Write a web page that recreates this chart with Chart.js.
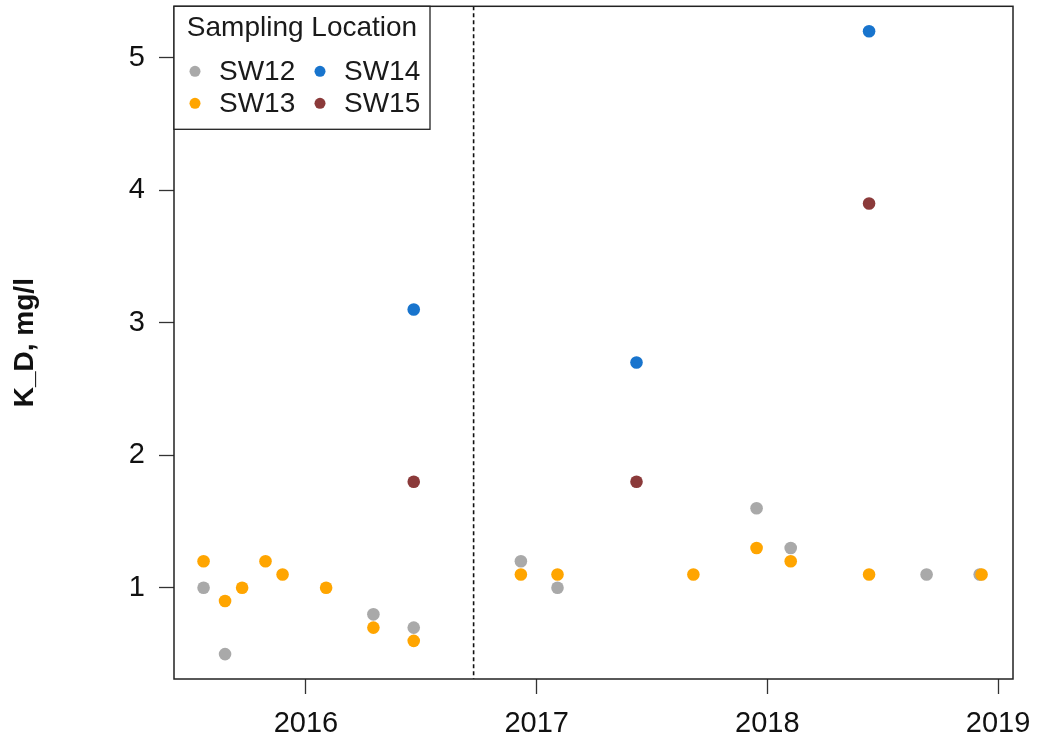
<!DOCTYPE html>
<html>
<head>
<meta charset="utf-8">
<title>K_D by sampling location</title>
<script src="https://cdn.jsdelivr.net/npm/chart.js@4"></script>
<style>
  html, body { margin: 0; padding: 0; background: #fff; }
  canvas { display: block; }
</style>
</head>
<body>
<canvas id="kdChart" width="1038" height="741"></canvas>
<script>
// sampling dates and dissolved K (mg/l) per location
var sw12Dates = ['2015-07-23','2015-08-26','2016-04-17','2016-06-20','2016-12-07','2017-02-03','2017-12-15','2018-02-07','2018-09-10','2018-12-03'];
var sw12Values = [1.0, 0.5, 0.8, 0.7, 1.2, 1.0, 1.6, 1.3, 1.1, 1.1];

var sw13Dates = ['2015-07-23','2015-08-26','2015-09-22','2015-10-29','2015-11-25','2016-02-02','2016-04-17','2016-06-20','2016-12-07','2017-02-03','2017-09-06','2017-12-15','2018-02-07','2018-06-11','2018-12-06'];
var sw13Values = [1.2, 0.9, 1.0, 1.2, 1.1, 1.0, 0.7, 0.6, 1.1, 1.1, 1.1, 1.3, 1.2, 1.1, 1.1];

var sw14Dates = ['2016-06-20','2017-06-08','2018-06-11'];
var sw14Values = [3.1, 2.7, 5.2];

var sw15Dates = ['2016-06-20','2017-06-08','2018-06-11'];
var sw15Values = [1.8, 1.8, 3.9];

var locations = ['SW12', 'SW13', 'SW14', 'SW15'];
var colors = ['#A9A9A9', '#FFA500', '#1874CD', '#8B3A3A'];

var xTicks = [2016, 2017, 2018, 2019];
var yTicks = [1, 2, 3, 4, 5];
var markerDate = '2016-09-23';

var FONT = "'Liberation Sans', Arial, sans-serif";

function decimalYear(d){
	var t = Date.parse(d + 'T00:00:00Z');
	var y = new Date(t).getUTCFullYear();
	var start = Date.UTC(y, 0, 1), end = Date.UTC(y + 1, 0, 1);
	return y + (t - start) / (end - start);
}

function points(dates, values){
	return dates.map(function(d, i){ return { x: decimalYear(d), y: values[i] }; });
}

var series = [
	points(sw12Dates, sw12Values),
	points(sw13Dates, sw13Values),
	points(sw14Dates, sw14Values),
	points(sw15Dates, sw15Values)
];
// orange drawn above grey where they overlap
var drawOrder = [2, 1, 3, 4];

var datasets = locations.map(function(name, i){
	return {
		label: name,
		data: series[i],
		backgroundColor: colors[i],
		borderWidth: 0,
		pointRadius: 6.3,
		pointStyle: 'circle',
		order: drawOrder[i]
	};
});

// frame, dashed date marker and the boxed legend
var framePlugin = {
	id: 'frame',
	beforeDatasetsDraw: function(chart){
		var ctx = chart.ctx, a = chart.chartArea;
		var xs = chart.scales.x;
		var mx = xs.getPixelForValue(decimalYear(markerDate));
		ctx.save();
		ctx.strokeStyle = '#111';
		ctx.lineWidth = 1.6;
		ctx.setLineDash([4, 3]);
		ctx.beginPath();
		ctx.moveTo(mx, a.top);
		ctx.lineTo(mx, a.bottom);
		ctx.stroke();
		ctx.restore();
	},
	afterDatasetsDraw: function(chart){
		var ctx = chart.ctx, a = chart.chartArea;
		ctx.save();
		ctx.strokeStyle = '#222';
		ctx.lineWidth = 1.5;
		ctx.strokeRect(a.left, a.top, a.right - a.left, a.bottom - a.top);

		// legend
		var lx = a.left, ly = a.top, lw = 256, lh = 123;
		ctx.fillStyle = '#fff';
		ctx.fillRect(lx, ly, lw, lh);
		ctx.lineWidth = 1.3;
		ctx.strokeRect(lx, ly, lw, lh);

		ctx.font = '28px ' + FONT;
		ctx.fillStyle = '#1a1a1a';
		ctx.textBaseline = 'middle';
		ctx.textAlign = 'center';
		ctx.fillText('Sampling Location', lx + lw / 2, ly + 22);

		ctx.textAlign = 'left';
		var colX = [lx + 21, lx + 146];
		var rowY = [ly + 65, ly + 97];
		chart.data.datasets.forEach(function(ds, i){
			var cx = colX[Math.floor(i / 2)], cy = rowY[i % 2];
			ctx.fillStyle = ds.backgroundColor;
			ctx.beginPath();
			ctx.arc(cx, cy, 5.5, 0, Math.PI * 2);
			ctx.fill();
			ctx.fillStyle = '#1a1a1a';
			ctx.fillText(ds.label, cx + 24, cy + 1);
		});
		ctx.restore();
	}
};

var ctx = document.getElementById('kdChart').getContext('2d');
var kdChart = new Chart(ctx, {
	type: 'scatter',
	data: { datasets: datasets },
	options: {
		responsive: false,
		animation: false,
		events: [],
		layout: { padding: { top: 4, right: 25, bottom: 0, left: 0 } },
		plugins: {
			legend: { display: false },
			tooltip: { enabled: false }
		},
		scales: {
			x: {
				type: 'linear',
				min: 2015.428,
				max: 2019.065,
				afterBuildTicks: function(axis){
					axis.ticks = xTicks.map(function(v){ return { value: v }; });
				},
				afterFit: function(axis){
					axis.height = 62;
					axis.paddingLeft = 0;
					axis.paddingRight = 0;
				},
				border: { display: false },
				grid: {
					drawOnChartArea: false,
					drawTicks: true,
					tickLength: 15,
					tickColor: '#333',
					tickWidth: 1.3
				},
				ticks: {
					color: '#111',
					padding: 13,
					maxRotation: 0,
					font: { family: FONT, size: 29 },
					callback: function(v){ return String(v); }
				}
			},
			y: {
				type: 'linear',
				min: 0.312,
				max: 5.388,
				afterBuildTicks: function(axis){
					axis.ticks = yTicks.map(function(v){ return { value: v }; });
				},
				afterFit: function(axis){
					axis.width = 174;
					axis.paddingTop = 0;
					axis.paddingBottom = 0;
				},
				border: { display: false },
				grid: {
					drawOnChartArea: false,
					drawTicks: true,
					tickLength: 15,
					tickColor: '#333',
					tickWidth: 1.3
				},
				ticks: {
					color: '#111',
					padding: 14,
					font: { family: FONT, size: 29 },
					callback: function(v){ return String(v); }
				},
				title: {
					display: true,
					text: 'K_D, mg/l',
					color: '#111',
					padding: { top: 8, bottom: 0 },
					font: { family: FONT, size: 28, weight: 'bold' }
				}
			}
		}
	},
	plugins: [framePlugin]
});
</script>
</body>
</html>
